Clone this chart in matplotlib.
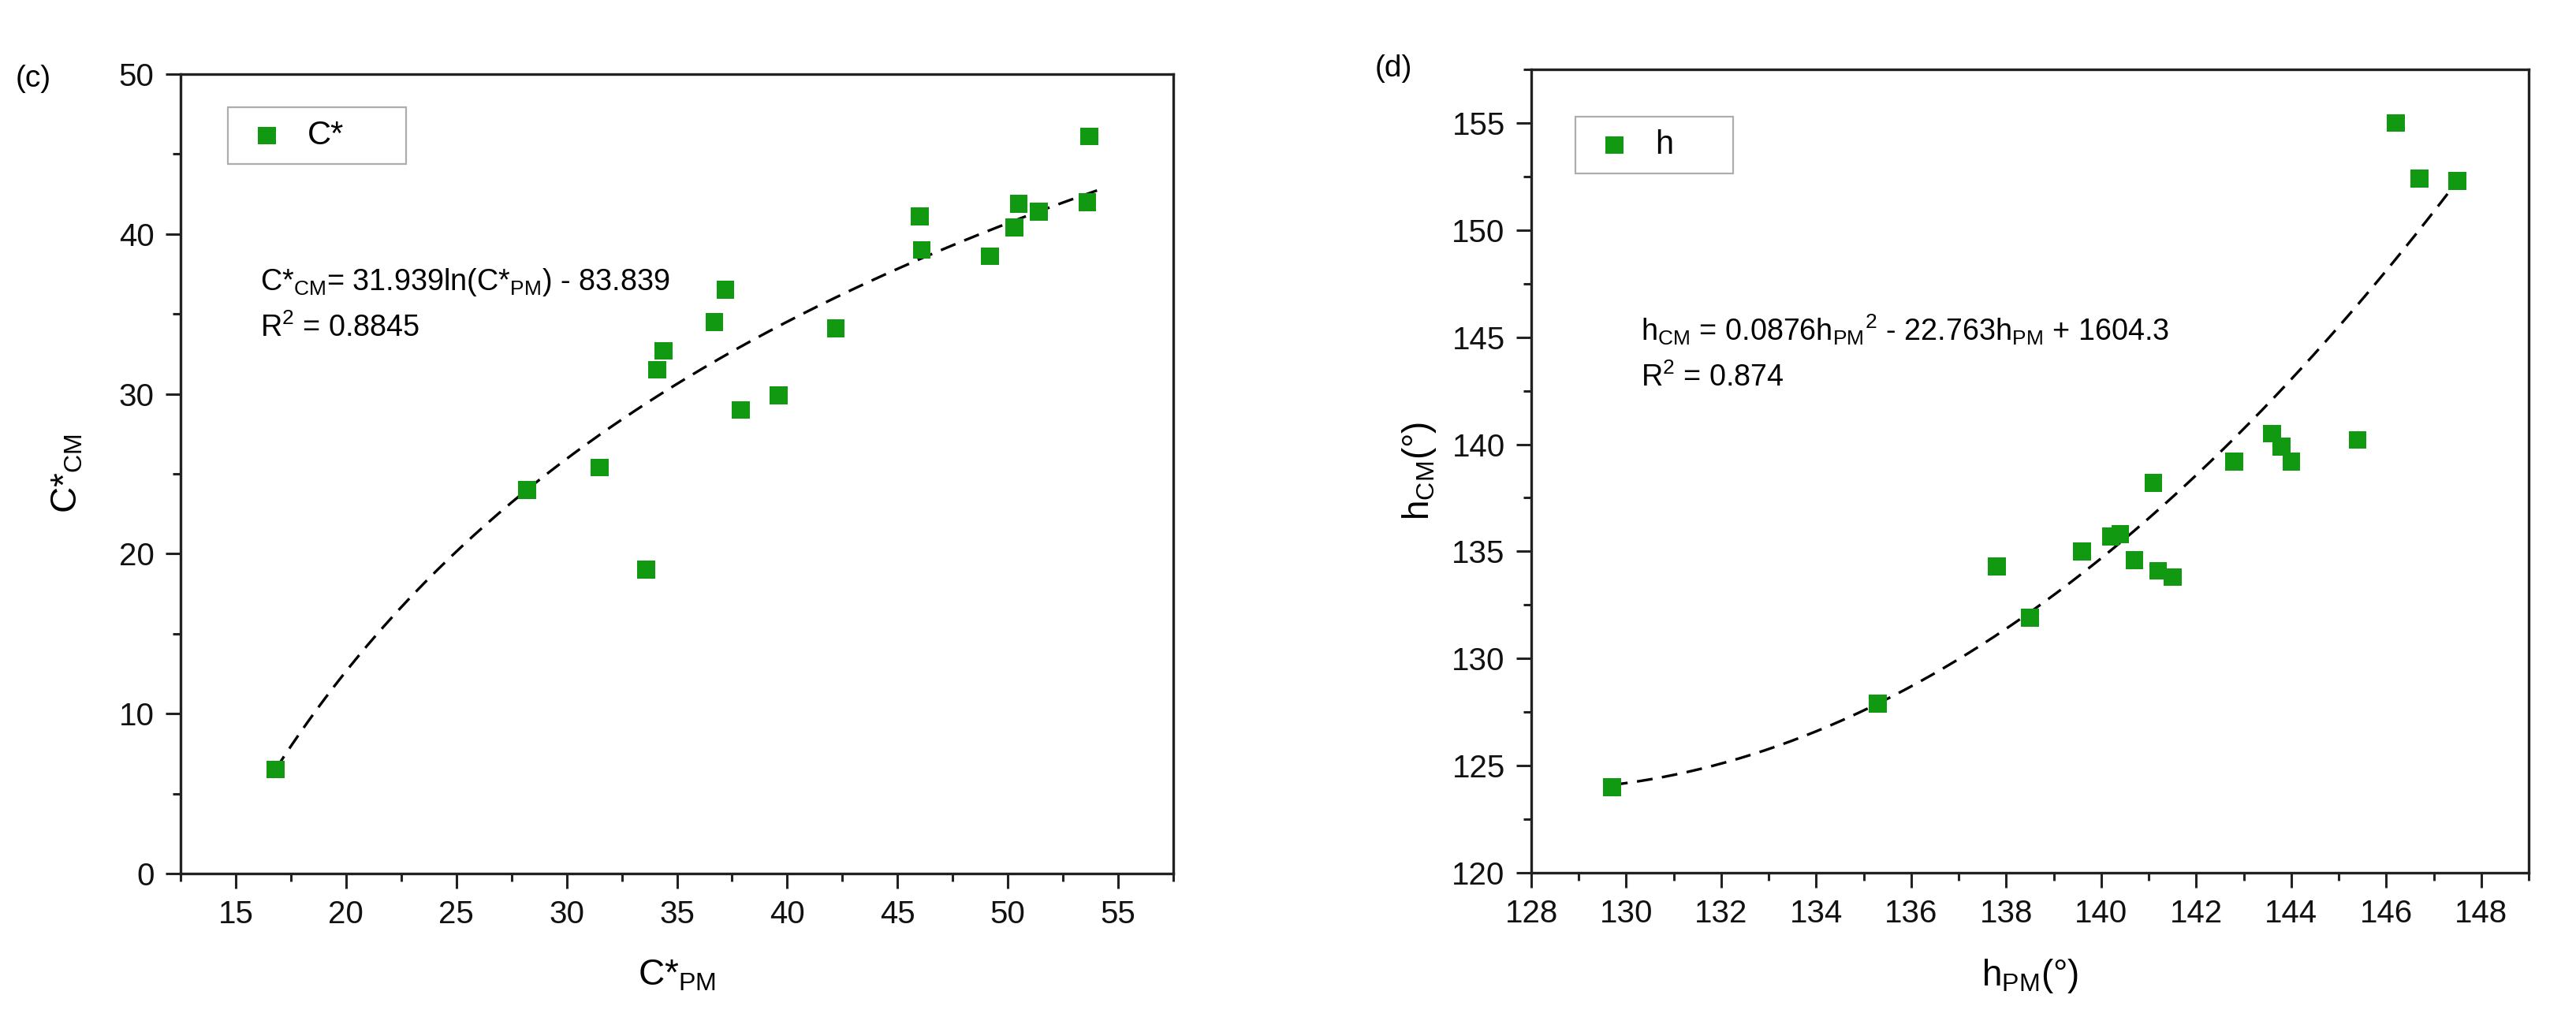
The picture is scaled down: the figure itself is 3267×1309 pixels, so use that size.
import numpy as np
import matplotlib
matplotlib.use("Agg")
import matplotlib.pyplot as plt
from matplotlib.ticker import MultipleLocator

plt.rcParams['font.family'] = ['Liberation Sans', 'DejaVu Sans']
plt.rcParams['mathtext.default'] = 'regular'

# ---- data (c) chroma ----
c_pm = [16.8, 28.2, 31.5, 33.6, 34.1, 34.4, 36.7, 37.2, 37.9, 39.6,
        42.2, 46.0, 46.1, 49.2, 50.3, 50.5, 51.4, 53.6, 53.7]
c_cm = [6.5, 24.0, 25.4, 19.0, 31.5, 32.7, 34.5, 36.5, 29.0, 29.9,
        34.1, 41.1, 39.0, 38.6, 40.4, 41.9, 41.4, 42.0, 46.1]

# ---- data (d) hue ----
h_pm = [129.7, 135.3, 137.8, 138.5, 139.6, 140.2, 140.4, 140.7, 141.1, 141.2,
        141.5, 142.8, 143.6, 143.8, 144.0, 145.4, 146.2, 146.7, 147.5]
h_cm = [124.0, 127.9, 134.3, 131.9, 135.0, 135.7, 135.8, 134.6, 138.2, 134.1,
        133.8, 139.2, 140.5, 139.9, 139.2, 140.2, 155.0, 152.4, 152.3]

# trend line of (c) as drawn: quadratic in ln(C*PM / 16.8), up to C*PM = 54.2
c_fit_origin = 16.8
c_fit_end = 54.2
c_fit_coef = [-4.286, 36.01, 6.5]
# trend line of (d) as drawn: quadratic in (h_PM - 129.7)
h_fit_origin = 129.7
h_fit_coef = [0.0742, 0.263, 124.1]

eq_c = r'C*$_{CM}$= 31.939ln(C*$_{PM}$) - 83.839'
r2_c = r'R$^2$ = 0.8845'
eq_h = r'h$_{CM}$ = 0.0876h$_{PM}$$^2$ - 22.763h$_{PM}$ + 1604.3'
r2_h = r'R$^2$ = 0.874'

GREEN = '#119a11'
W, H = 3267, 1309
fig = plt.figure(figsize=(W / 100, H / 100), dpi=100)

ax1 = fig.add_axes([229 / W, 1 - 1108 / H, (1488 - 229) / W, (1108 - 94) / H])
ax2 = fig.add_axes([1942 / W, 1 - 1107 / H, (3207 - 1942) / W, (1107 - 88) / H])

TICK_FS = 29
LAB_FS = 33
EQ_FS = 27.2
LEG_FS = 30
MS = 265
DASH = (0, (6.0, 3.6))
FIT_LW = 2.4


def style(ax):
    for s in ax.spines.values():
        s.set_linewidth(2.4)
        s.set_color('#222222')
    ax.tick_params(which='major', direction='out', length=14, width=2.2,
                   labelsize=TICK_FS, pad=10, colors='#222222', labelcolor='#111111')
    ax.tick_params(which='minor', direction='out', length=7, width=2.2, colors='#222222')
    ax.tick_params(top=False, right=False, which='both')


def legend(ax, x0, y0, w, h):
    leg = ax.legend(loc='upper left', bbox_to_anchor=(x0, y0 - h, w, h), mode='expand',
                    fontsize=LEG_FS, frameon=True, fancybox=False, edgecolor='#999999',
                    borderaxespad=0, handletextpad=0.45, borderpad=0.38, handlelength=1.6)
    leg.get_frame().set_linewidth(1.6)
    return leg


# panel (c)
x1 = np.array(c_pm)
y1 = np.array(c_cm)
xf = np.linspace(x1.min(), c_fit_end, 200)
ax1.plot(xf, np.polyval(c_fit_coef, np.log(xf / c_fit_origin)), color='black', lw=FIT_LW,
         ls=DASH, zorder=2)
ax1.scatter(x1, y1, marker='s', s=MS, color=GREEN, edgecolors='none', zorder=3, label='C*')
ax1.set_xlim(12.5, 57.5)
ax1.set_ylim(0, 50)
ax1.xaxis.set_major_locator(MultipleLocator(5))
ax1.xaxis.set_minor_locator(MultipleLocator(2.5))
ax1.yaxis.set_major_locator(MultipleLocator(10))
ax1.yaxis.set_minor_locator(MultipleLocator(5))
style(ax1)
ax1.set_xlabel(r'C*$_{PM}$', fontsize=LAB_FS, labelpad=26)
ax1.set_ylabel(r'C*$_{CM}$', fontsize=LAB_FS, labelpad=31)
ax1.text(16.1, 37.0, eq_c, fontsize=EQ_FS, va='center', ha='left')
ax1.text(16.1, 34.1, r2_c, fontsize=EQ_FS, va='center', ha='left')
legend(ax1, 0.0477, 0.9586, 0.1795, 0.065)
fig.text(42 / W, 1 - 100 / H, '(c)', fontsize=28, ha='center', va='center')

# panel (d)
x2 = np.array(h_pm)
y2 = np.array(h_cm)
xf2 = np.linspace(x2.min(), x2.max(), 200)
ax2.plot(xf2, np.polyval(h_fit_coef, xf2 - h_fit_origin), color='black', lw=FIT_LW,
         ls=DASH, zorder=2)
ax2.scatter(x2, y2, marker='s', s=MS, color=GREEN, edgecolors='none', zorder=3, label='h')
ax2.set_xlim(128, 149)
ax2.set_ylim(120, 157.5)
ax2.xaxis.set_major_locator(MultipleLocator(2))
ax2.xaxis.set_minor_locator(MultipleLocator(1))
ax2.yaxis.set_major_locator(MultipleLocator(5))
ax2.yaxis.set_minor_locator(MultipleLocator(2.5))
style(ax2)
ax2.set_xlabel(r'h$_{PM}$(°)', fontsize=LAB_FS, labelpad=26)
ax2.set_ylabel(r'h$_{CM}$(°)', fontsize=LAB_FS, labelpad=12)
ax2.text(130.3, 145.35, eq_h, fontsize=EQ_FS, va='center', ha='left')
ax2.text(130.3, 143.1, r2_h, fontsize=EQ_FS, va='center', ha='left')
legend(ax2, 0.0443, 0.941, 0.158, 0.065)
fig.text(1767 / W, 1 - 87 / H, '(d)', fontsize=28, ha='center', va='center')

fig.savefig('out.png', dpi=100, facecolor='white')
